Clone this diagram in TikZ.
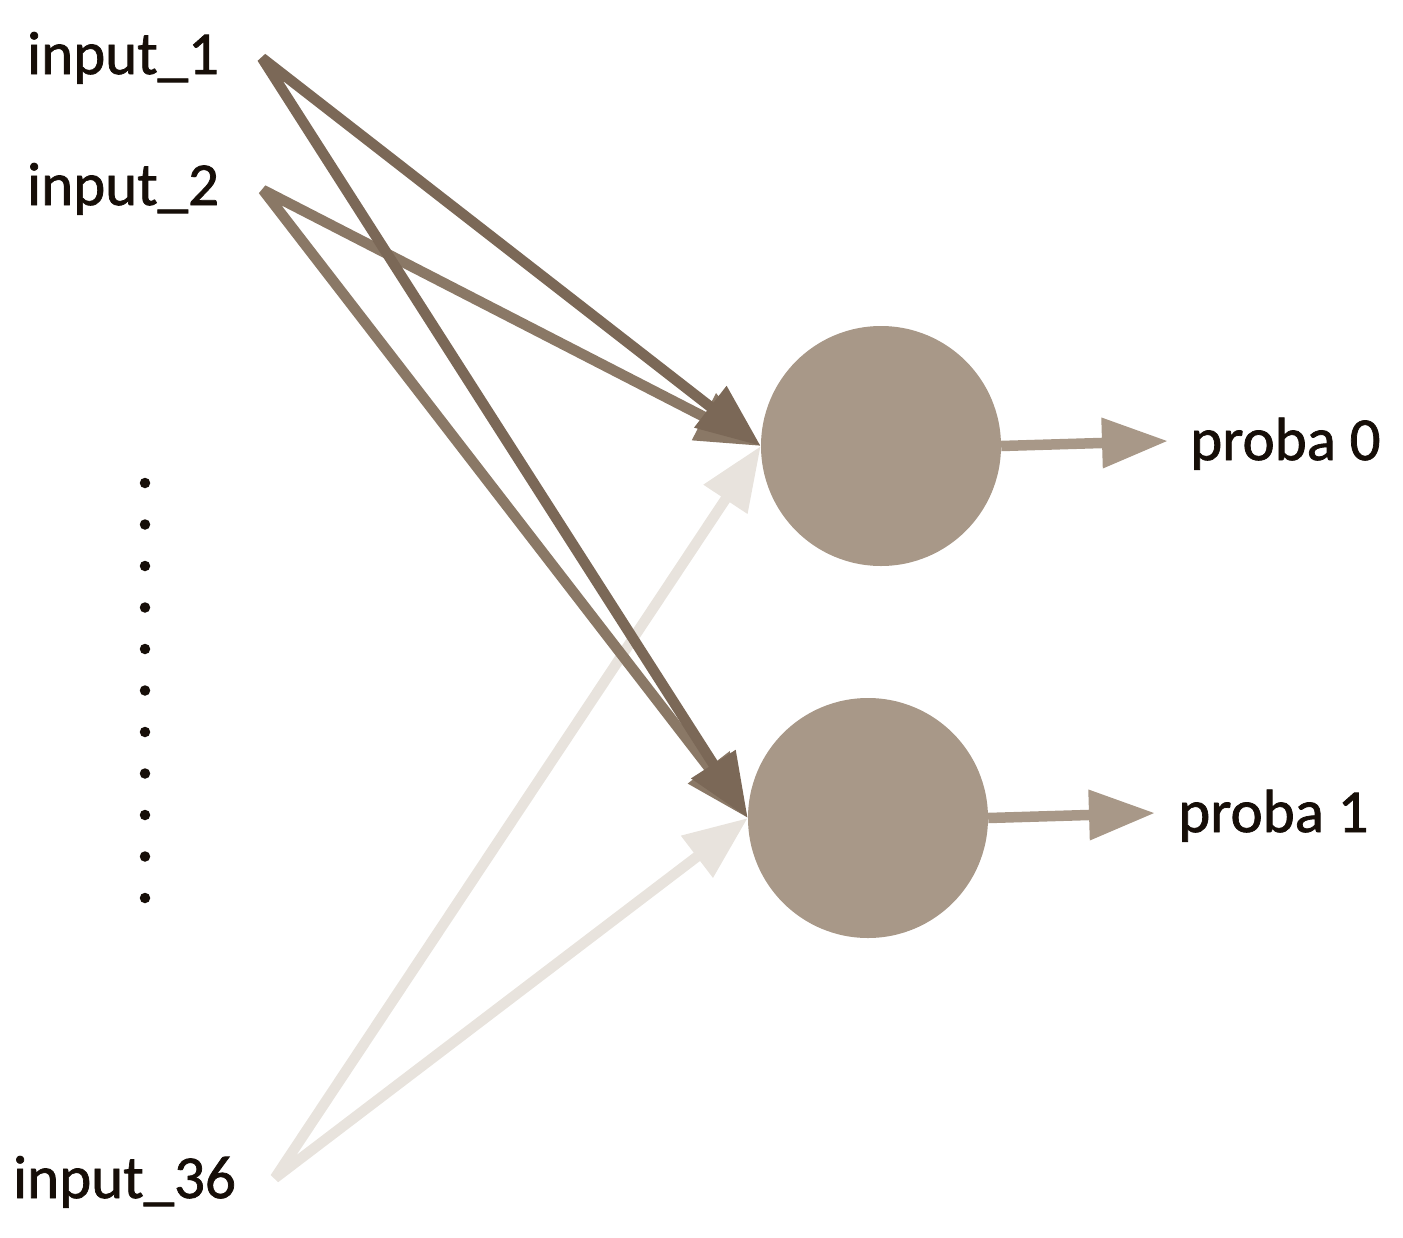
\documentclass[tikz,border=0pt]{standalone}
\usepackage{fontspec}
\setmainfont{Carlito}[FakeBold=1.2]
\usetikzlibrary{arrows.meta}
\definecolor{darkone}{RGB}{123,104,87}
\definecolor{darktwo}{RGB}{138,120,102}
\definecolor{lightline}{RGB}{232,227,221}
\definecolor{circfill}{RGB}{168,152,136}
\definecolor{textcol}{RGB}{22,14,8}
\tikzset{
  lbl/.style={anchor=base west, inner sep=0pt, text=textcol, font=\fontsize{61}{72}\selectfont},
  neuron/.style={circle, fill=circfill, draw=none, minimum size=240pt, inner sep=0pt},
  wire/.style={line width=10.5pt, line join=bevel, {Triangle[length=64pt,width=50pt]}-{Triangle[length=64pt,width=50pt]}},
  outwire/.style={line width=10.5pt, color=circfill, -{Triangle[length=66pt,width=48pt]}},
  dotmark/.style={circle, fill=textcol, minimum size=10.5pt, inner sep=0pt}
}
\begin{document}
\begin{tikzpicture}[x=1pt,y=-1pt]
\useasboundingbox (0,0) rectangle (1403,1237);
% labels
\node[lbl] (in1) at (27,74) {input\_1};
\node[lbl] (in2) at (27,205) {input\_2};
\node[lbl] (in36) at (13,1198) {input\_36};
\node[lbl] (p0) at (1190,460) {proba 0};
\node[lbl] (p1) at (1178,832) {proba 1};
% line start points
\coordinate (s1) at (262,58);
\coordinate (s2) at (263,190);
\coordinate (s36) at (275,1178);
% neurons
\node[neuron] (c1) at (881,446) {};
\node[neuron] (c2) at (868,818) {};
% output tips
\coordinate (o1) at (1168,441);
\coordinate (o2) at (1155,813);
% dots
\foreach \k in {0,...,10} {
  \node[dotmark] (d\k) at (145,{483+41.5*\k}) {};
}
% connectors
\draw[wire, color=lightline] (c1.west) -- (s36) -- (c2.west);
\draw[wire, color=darktwo] (c1.west) -- (s2) -- (c2.west);
\draw[wire, color=darkone] (c1.west) -- (s1) -- (c2.west);
\draw[outwire] (c1.east) -- (o1);
\draw[outwire] (c2.east) -- (o2);
\end{tikzpicture}
\end{document}
